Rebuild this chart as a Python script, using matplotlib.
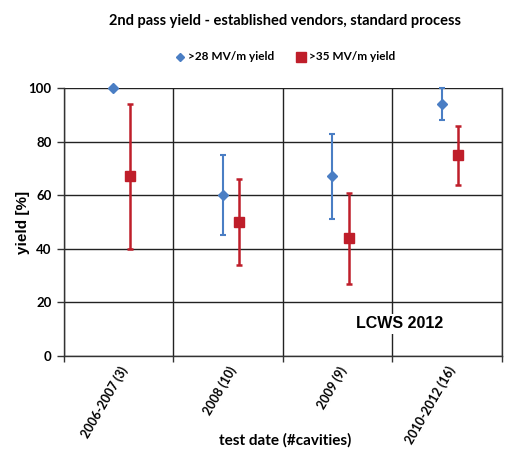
import matplotlib.pyplot as plt
import numpy as np

# data
categories = ["2006-2007 (3)", "2008 (10)", "2009 (9)", "2010-2012 (16)"]
yield_28 = [100, 60, 67, 94]
yield_28_lo = [100, 45, 51, 88]
yield_28_hi = [100, 75, 83, 100]
yield_35 = [67, 50, 44, 75]
yield_35_lo = [40, 34, 27, 64]
yield_35_hi = [94, 66, 61, 86]

blue = "#4A7EC4"
red = "#BF1E2A"

fig = plt.figure(figsize=(5.1, 4.61), dpi=100)
ax = fig.add_axes([0.1255, 0.2278, 0.8585, 0.5812])

x = np.arange(len(categories)) + 0.5
e28 = [np.subtract(yield_28, yield_28_lo), np.subtract(yield_28_hi, yield_28)]
e35 = [np.subtract(yield_35, yield_35_lo), np.subtract(yield_35_hi, yield_35)]

ax.errorbar(x - 0.05, yield_28, yerr=e28, fmt="D", color=blue, ms=5.5,
            elinewidth=1.5, capsize=2, capthick=1.5, zorder=3, clip_on=False)
ax.errorbar(x + 0.10, yield_35, yerr=e35, fmt="s", color=red, ms=7.5,
            elinewidth=1.8, capsize=2, capthick=1.8, zorder=3, clip_on=False)

ax.set_xlim(0, 4)
ax.set_ylim(0, 100)
ax.set_yticks(range(0, 101, 20))
ax.set_xticks(range(0, 5))
ax.set_xticklabels([])
ax.set_xticks(x, minor=True)
ax.set_xticklabels(categories, minor=True, rotation=60, ha="right",
                   rotation_mode="anchor", fontsize=9, fontweight="bold",
                   family="Lato")
ax.tick_params(axis="x", which="minor", length=0, pad=6)
ax.tick_params(axis="x", which="major", length=4, width=1, color="#333333")
ax.tick_params(axis="y", length=5, width=1, color="#333333", pad=4)
for lab in ax.get_yticklabels():
    lab.set_fontweight("bold")
    lab.set_fontsize(9.5)
    lab.set_family("Lato")

ax.grid(True, which="major", color="#222222", lw=1)
ax.spines["top"].set_visible(False)
for s in ["left", "bottom", "right"]:
    ax.spines[s].set_color("#333333")
    ax.spines[s].set_linewidth(1)
ax.set_axisbelow(True)

ax.set_ylabel("yield [%]", fontsize=11, fontweight="bold", family="Liberation Sans")
ax.yaxis.set_label_coords(-0.078, 0.5)
fig.text(0.56, 0.045, "test date (#cavities)", fontsize=11, fontweight="bold",
         family="Lato", ha="center", va="center")
ax.text(3.07, 12, "LCWS 2012", fontsize=11.5, fontweight="bold",
        family="Liberation Sans", ha="center", va="center",
        bbox=dict(facecolor="white", edgecolor="none", pad=2))

fig.text(0.558, 0.955, "2nd pass yield - established vendors, standard process",
         ha="center", va="center", fontsize=10.5, fontweight="bold", family="Lato")

# legend built by hand to match placement
ly = 1 - 57 / 461
ax.plot([180 / 510], [ly], "D", color=blue, ms=4.5, transform=fig.transFigure,
        clip_on=False)
fig.text(188 / 510, ly, ">28 MV/m yield", fontsize=8.5, fontweight="bold",
         ha="left", va="center", family="Lato")
ax.plot([301 / 510], [ly], "s", color=red, ms=7, transform=fig.transFigure,
        clip_on=False)
fig.text(309 / 510, ly, ">35 MV/m yield", fontsize=8.5, fontweight="bold",
         ha="left", va="center", family="Lato")

fig.savefig("out.png", dpi=100)
